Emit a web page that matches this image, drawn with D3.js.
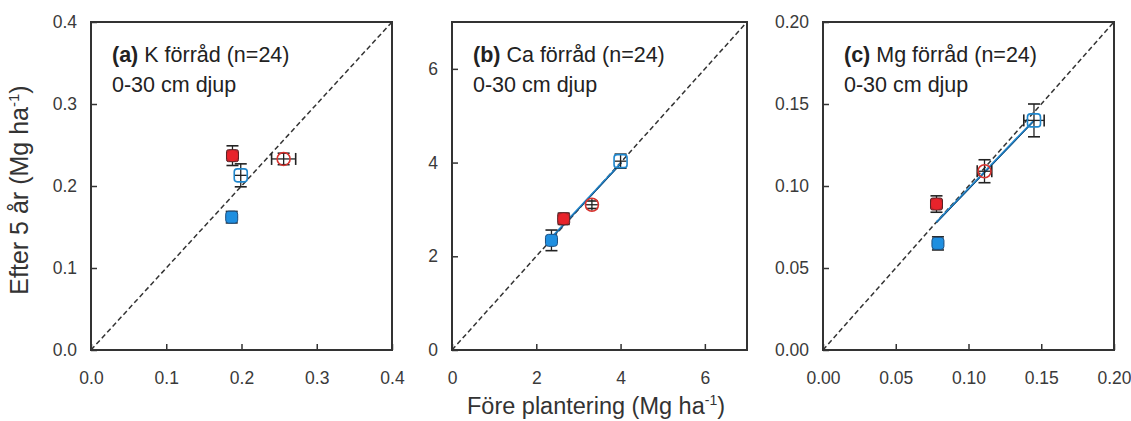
<!DOCTYPE html>
<html>
<head>
<meta charset="utf-8">
<script src="https://cdn.jsdelivr.net/npm/d3@7"></script>
<style>
  body { margin: 0; background: #fff; }
  svg text { font-family: "Liberation Sans", Arial, sans-serif; }
  .tick-label { font-family: "Liberation Sans Narrow", "Liberation Sans", Arial, sans-serif; font-size: 17.5px; fill: #3a3a3a; }
</style>
</head>
<body>
<div id="chart"></div>
<script>

// panel info
var panelTags = ["(a)", "(b)", "(c)"];
var panelNames = ["K förråd (n=24)", "Ca förråd (n=24)", "Mg förråd (n=24)"];
var axisMax = [0.4, 7, 0.2];
var tickValues = [
  [0, 0.1, 0.2, 0.3, 0.4],
  [0, 2, 4, 6],
  [0, 0.05, 0.1, 0.15, 0.2]
];
var tickFormats = [".1f", "d", ".2f"];

// series order: red filled, blue filled, red open, blue open
var seriesNames = ["redFilled", "blueFilled", "redOpen", "blueOpen"];

// Före plantering (x) per panel
var foreValues = [
  [0.188, 0.187, 0.256, 0.199],
  [2.65, 2.36, 3.32, 4.0],
  [0.078, 0.079, 0.111, 0.145]
];
var foreErr = [
  [0.003, 0.003, 0.016, 0.006],
  [0.08, 0.1, 0.12, 0.12],
  [0.002, 0.002, 0.005, 0.007]
];
// Efter 5 år (y) per panel
var efterValues = [
  [0.237, 0.162, 0.233, 0.213],
  [2.8, 2.34, 3.1, 4.03],
  [0.089, 0.065, 0.109, 0.140]
];
var efterErr = [
  [0.012, 0.007, 0.007, 0.014],
  [0.12, 0.22, 0.08, 0.15],
  [0.005, 0.004, 0.007, 0.010]
];
// blue fitted line ends per panel
var fitLines = [
  null,
  [[2.32, 2.36], [4.02, 4.0]],
  [[0.078, 0.078], [0.145, 0.14]]
];

var colors = { redFilled: "#e8232b", blueFilled: "#1f8fe0", redOpen: "#d8332f", blueOpen: "#1f86cc" };

var frames = [
  { left: 91, right: 392 },
  { left: 452, right: 747 },
  { left: 823, right: 1114 }
];
var plotTop = 22, plotBottom = 350;

var svg = d3.select("#chart")
  .append("svg")
  .attr("width", 1131)
  .attr("height", 421);

frames.forEach(function (f, p) {
  var x = d3.scaleLinear().domain([0, axisMax[p]]).range([f.left, f.right]);
  var y = d3.scaleLinear().domain([0, axisMax[p]]).range([plotBottom, plotTop]);
  var fmt = d3.format(tickFormats[p]);
  var g = svg.append("g");

  // x axis (ticks inside)
  var xa = g.append("g")
    .attr("transform", "translate(0," + plotBottom + ")")
    .call(d3.axisBottom(x).tickValues(tickValues[p]).tickSize(-6).tickPadding(22).tickFormat(fmt));
  xa.select(".domain").remove();
  xa.selectAll(".tick line").attr("stroke", "#333").attr("stroke-width", 1.5);
  xa.selectAll(".tick text").attr("class", "tick-label").attr("font-size", null).attr("font-family", null).attr("fill", null);

  // y axis (ticks inside)
  var ya = g.append("g")
    .attr("transform", "translate(" + f.left + ",0)")
    .call(d3.axisLeft(y).tickValues(tickValues[p]).tickSize(-6).tickPadding(14).tickFormat(fmt));
  ya.select(".domain").remove();
  ya.selectAll(".tick line").attr("stroke", "#333").attr("stroke-width", 1.5);
  ya.selectAll(".tick text").attr("class", "tick-label").attr("font-size", null).attr("font-family", null).attr("fill", null);

  // frame
  g.append("rect")
    .attr("x", f.left).attr("y", plotTop)
    .attr("width", f.right - f.left).attr("height", plotBottom - plotTop)
    .attr("fill", "none").attr("stroke", "#333").attr("stroke-width", 2);

  // 1:1 line
  g.append("line")
    .attr("x1", x(0)).attr("y1", y(0))
    .attr("x2", x(axisMax[p])).attr("y2", y(axisMax[p]))
    .attr("stroke", "#333").attr("stroke-width", 1.5)
    .attr("stroke-dasharray", "5,3");

  // fitted line
  if (fitLines[p]) {
    var fl = fitLines[p];
    g.append("line")
      .attr("x1", x(fl[0][0])).attr("y1", y(fl[0][1]))
      .attr("x2", x(fl[1][0])).attr("y2", y(fl[1][1]))
      .attr("stroke", "#1f86cc").attr("stroke-width", 2);
    g.append("line")
      .attr("x1", x(fl[0][0])).attr("y1", y(fl[0][1]) + 1)
      .attr("x2", x(fl[1][0])).attr("y2", y(fl[1][1]) + 1)
      .attr("stroke", "#1b3f66").attr("stroke-width", 0.8);
  }

  // points
  var pts = seriesNames.map(function (s, i) {
    return { name: s, fx: foreValues[p][i], fy: efterValues[p][i], ex: foreErr[p][i], ey: efterErr[p][i] };
  });

  var pg = g.append("g").selectAll("g")
    .data(pts)
    .enter()
    .append("g");

  // error bars (drawn first, filled markers cover them)
  pg.each(function (d) {
    var el = d3.select(this);
    var cx = x(d.fx), cy = y(d.fy);
    var x0 = x(d.fx - d.ex), x1 = x(d.fx + d.ex);
    var y0 = y(d.fy - d.ey), y1 = y(d.fy + d.ey);
    var c = "#222";
    el.append("line").attr("x1", Math.min(x0, cx - 6)).attr("x2", Math.max(x1, cx + 6)).attr("y1", cy).attr("y2", cy)
      .attr("stroke", c).attr("stroke-width", 1.3);
    el.append("line").attr("x1", cx).attr("x2", cx).attr("y1", Math.max(y0, cy + 6)).attr("y2", Math.min(y1, cy - 6))
      .attr("stroke", c).attr("stroke-width", 1.3);
    // caps
    el.append("line").attr("x1", cx - 6).attr("x2", cx + 6).attr("y1", y0).attr("y2", y0).attr("stroke", c).attr("stroke-width", 1.6);
    el.append("line").attr("x1", cx - 6).attr("x2", cx + 6).attr("y1", y1).attr("y2", y1).attr("stroke", c).attr("stroke-width", 1.6);
    if (x1 - x0 > 12) {
      el.append("line").attr("x1", x0).attr("x2", x0).attr("y1", cy - 6).attr("y2", cy + 6).attr("stroke", c).attr("stroke-width", 1.6);
      el.append("line").attr("x1", x1).attr("x2", x1).attr("y1", cy - 6).attr("y2", cy + 6).attr("stroke", c).attr("stroke-width", 1.6);
    }
  });

  // markers
  pg.each(function (d) {
    var el = d3.select(this);
    var cx = x(d.fx), cy = y(d.fy);
    if (d.name == "redFilled") {
      el.append("rect").attr("x", cx - 6).attr("y", cy - 6).attr("width", 12).attr("height", 12)
        .attr("rx", 2).attr("fill", "#c4242a").attr("stroke", "#5a2226").attr("stroke-width", 1);
      el.append("circle").attr("cx", cx).attr("cy", cy).attr("r", 5.5).attr("fill", colors.redFilled);
    } else if (d.name == "blueFilled") {
      el.append("rect").attr("x", cx - 6).attr("y", cy - 6).attr("width", 12).attr("height", 12)
        .attr("rx", 3).attr("fill", colors.blueFilled).attr("stroke", "#1d4f80").attr("stroke-width", 1);
    } else if (d.name == "redOpen") {
      el.append("circle").attr("cx", cx).attr("cy", cy).attr("r", 6.5)
        .attr("fill", "none").attr("stroke", colors.redOpen).attr("stroke-width", 1.6);
    } else {
      el.append("rect").attr("x", cx - 6.5).attr("y", cy - 6.5).attr("width", 13).attr("height", 13)
        .attr("rx", 3).attr("fill", "none").attr("stroke", colors.blueOpen).attr("stroke-width", 1.6);
    }
  });

  // panel title
  var t = g.append("text")
    .attr("x", f.left + 21).attr("y", 62)
    .attr("font-size", 21.5).attr("fill", "#222");
  t.append("tspan").attr("font-weight", "bold").text(panelTags[p]);
  t.append("tspan").text(" " + panelNames[p]);
  g.append("text")
    .attr("x", f.left + 21).attr("y", 92)
    .attr("font-size", 21.5).attr("fill", "#222")
    .text("0-30 cm djup");
});

// axis titles
var xt = svg.append("text")
  .attr("x", 596).attr("y", 414)
  .attr("text-anchor", "middle")
  .attr("font-size", 23.5).attr("fill", "#333");
xt.append("tspan").text("Före plantering (Mg ha");
xt.append("tspan").attr("font-size", 14).attr("dy", -9).text("-1");
xt.append("tspan").attr("dy", 9).text(")");

var yt = svg.append("text")
  .attr("transform", "translate(28,190) rotate(-90)")
  .attr("text-anchor", "middle")
  .attr("font-size", 25).attr("fill", "#333");
yt.append("tspan").text("Efter 5 år (Mg ha");
yt.append("tspan").attr("font-size", 15).attr("dy", -9).text("-1");
yt.append("tspan").attr("dy", 9).text(")");

</script>
</body>
</html>
